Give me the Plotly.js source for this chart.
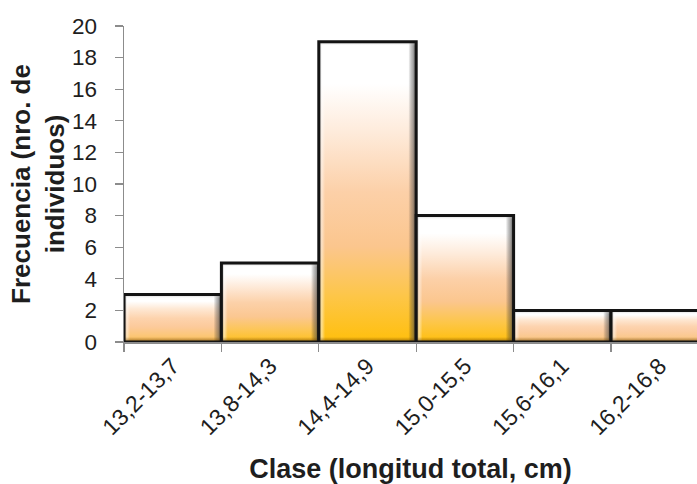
<!DOCTYPE html>
<html>
<head>
<meta charset="utf-8">
<script src="https://cdn.plot.ly/plotly-3.0.1.min.js"></script>
<style>
  html, body { margin: 0; padding: 0; background: #ffffff; }
  #chart { width: 697px; height: 484px; }
</style>
</head>
<body>
<div id="chart"></div>
<script>
// Size classes (total length, cm) and number of individuals in each class
const classes = ['13,2-13,7', '13,8-14,3', '14,4-14,9', '15,0-15,5', '15,6-16,1', '16,2-16,8'];
const frequency = [3, 5, 19, 8, 2, 2];
const yTicks = [0, 2, 4, 6, 8, 10, 12, 14, 16, 18, 20];

const FONT = 'Liberation Sans, Arial, sans-serif';
const TEXT = '#1e1e1e';

const trace = {
  type: 'bar',
  x: classes,
  y: frequency,
  width: 1,
  marker: { color: '#fcd0a8', line: { color: '#141414', width: 3 } },
  hoverinfo: 'none',
  cliponaxis: true
};

const layout = {
  width: 697,
  height: 484,
  margin: { l: 124, r: 0, t: 26, b: 142 },
  paper_bgcolor: '#ffffff',
  plot_bgcolor: '#ffffff',
  showlegend: false,
  bargap: 0,
  font: { family: FONT, color: TEXT },
  xaxis: {
    type: 'category',
    range: [-0.5, 5.383],
    tickson: 'boundaries',
    ticks: 'outside',
    ticklen: 8,
    tickwidth: 1.3,
    tickcolor: '#8c8c8c',
    showline: true,
    linecolor: '#8c8c8c',
    linewidth: 1.5,
    showgrid: false,
    zeroline: false,
    tickangle: -45,
    tickfont: { family: FONT, size: 23, color: TEXT },
    title: {
      text: '<b>Clase (longitud total, cm)</b>',
      font: { family: FONT, size: 27, color: TEXT },
      standoff: 20
    },
    automargin: false
  },
  yaxis: {
    range: [0, 20],
    tickvals: yTicks,
    ticktext: yTicks.map(String),
    ticks: 'outside',
    ticklen: 8,
    tickwidth: 1.3,
    tickcolor: '#8c8c8c',
    ticklabelstandoff: 13,
    showline: true,
    linecolor: '#8c8c8c',
    linewidth: 1.5,
    showgrid: false,
    zeroline: false,
    tickfont: { family: FONT, size: 22.5, color: TEXT },
    title: {
      text: '<b>Frecuencia (nro. de<br>individuos)</b>',
      font: { family: FONT, size: 26, color: TEXT },
      standoff: 0
    },
    automargin: false
  }
};

// Colour helpers for the per-bar vertical fill
function hexToRgb(h) {
  const n = parseInt(h.slice(1), 16);
  return [(n >> 16) & 255, (n >> 8) & 255, n & 255];
}
function mix(a, b, t) {
  const ca = hexToRgb(a), cb = hexToRgb(b);
  return 'rgb(' + ca.map((v, i) => Math.round(v + (cb[i] - v) * t)).join(',') + ')';
}

// Fill stops: short bars stay peach, tall bars reach gold at the base
const stopOffsets = [0, 0.14, 0.3, 0.5, 0.68, 0.85, 1];
const shortColors = ['#ffffff', '#ffffff', '#fee6d0', '#fdd5b1', '#fccda3', '#fbc89a', '#f6bd88'];
const tallColors  = ['#ffffff', '#ffffff', '#feebdb', '#fcd0a8', '#fbc68e', '#fdc647', '#ffbf0c'];

const NS = 'http://www.w3.org/2000/svg';
function gradient(defs, id, vertical, stops) {
  const g = document.createElementNS(NS, 'linearGradient');
  g.setAttribute('id', id);
  g.setAttribute('x1', '0'); g.setAttribute('y1', '0');
  g.setAttribute('x2', vertical ? '0' : '1'); g.setAttribute('y2', vertical ? '1' : '0');
  stops.forEach(([off, col, op]) => {
    const s = document.createElementNS(NS, 'stop');
    s.setAttribute('offset', off);
    s.setAttribute('stop-color', col);
    s.setAttribute('stop-opacity', op === undefined ? 1 : op);
    g.appendChild(s);
  });
  defs.appendChild(g);
}

Plotly.newPlot('chart', [trace], layout, { staticPlot: true, displayModeBar: false }).then(gd => {
  const svg = gd.querySelector('svg.main-svg');
  let defs = svg.querySelector('defs');
  if (!defs) { defs = document.createElementNS(NS, 'defs'); svg.insertBefore(defs, svg.firstChild); }

  // side shading giving each bar a bevelled look
  gradient(defs, 'barSides', false, [
    [0, '#505050', 0.6], [0.03, '#ffffff', 0.5], [0.065, '#ffffff', 0],
    [0.92, '#000000', 0], [0.965, '#404040', 0.45], [1, '#202020', 0.8]
  ]);

  gd.querySelectorAll('.trace.bars .point path').forEach((p, i) => {
    const box = p.getBBox();
    const h = box.height;
    const t = Math.max(0, Math.min(1, (h - 20) / 70));

    const fillId = 'barFill' + i;
    gradient(defs, fillId, true, stopOffsets.map((o, k) => [o, mix(shortColors[k], tallColors[k], t)]));

    const edge = Math.min(0.3, 5 / Math.max(h, 1));
    const topEdge = Math.min(0.3, 4 / Math.max(h, 1));
    const edgeId = 'barEdge' + i;
    gradient(defs, edgeId, true, [
      [0, '#707070', 0.5], [topEdge, '#ffffff', 0],
      [1 - edge, '#7a4a00', 0], [1, '#5a3800', 0.65]
    ]);

    p.style.fill = 'url(#' + fillId + ')';
    const strokeStyle = p.style.stroke, strokeWidth = p.style.strokeWidth;
    p.style.stroke = 'none';

    const sides = p.cloneNode();
    sides.style.fill = 'url(#barSides)';
    sides.style.stroke = 'none';
    const edges = p.cloneNode();
    edges.style.fill = 'url(#' + edgeId + ')';
    edges.style.stroke = 'none';
    const outline = p.cloneNode();
    outline.style.fill = 'none';
    outline.style.stroke = strokeStyle;
    outline.style.strokeWidth = strokeWidth;

    const parent = p.parentNode;
    parent.appendChild(sides);
    parent.appendChild(edges);
    parent.appendChild(outline);
  });
});
</script>
</body>
</html>
